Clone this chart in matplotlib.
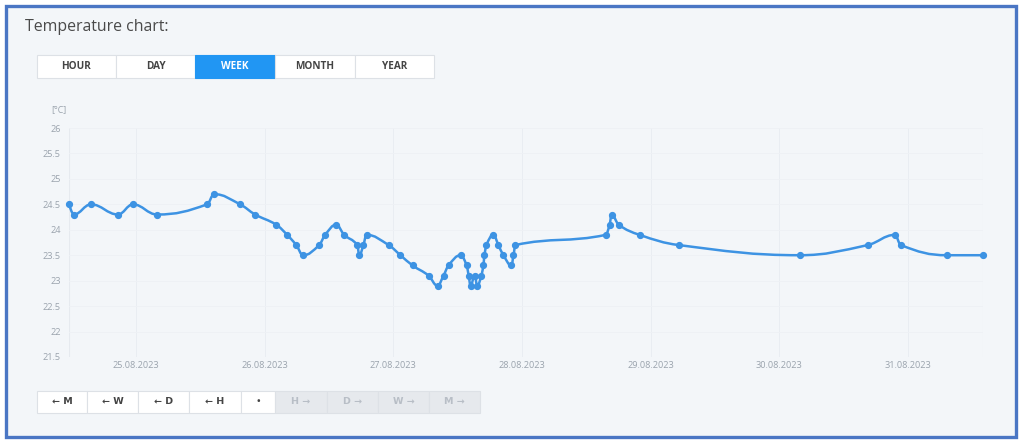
import matplotlib
matplotlib.use("Agg")
import matplotlib.pyplot as plt
import matplotlib.dates as mdates
from matplotlib.path import Path
from matplotlib.patches import PathPatch, Rectangle
import pandas as pd
import numpy as np

# ---------------- data ----------------
times = [
    "2023-08-24 11:30", "2023-08-24 12:25", "2023-08-24 15:36", "2023-08-24 20:38",
    "2023-08-24 23:26", "2023-08-25 03:55", "2023-08-25 13:16", "2023-08-25 14:34",
    "2023-08-25 19:25", "2023-08-25 22:13", "2023-08-26 02:09", "2023-08-26 04:12",
    "2023-08-26 05:53", "2023-08-26 07:11", "2023-08-26 10:10", "2023-08-26 11:17",
    "2023-08-26 13:20", "2023-08-26 14:50", "2023-08-26 17:16", "2023-08-26 17:40",
    "2023-08-26 18:25", "2023-08-26 19:00", "2023-08-26 23:07", "2023-08-27 01:20",
    "2023-08-27 03:35", "2023-08-27 06:34", "2023-08-27 08:15", "2023-08-27 09:22",
    "2023-08-27 10:18", "2023-08-27 12:33", "2023-08-27 13:40", "2023-08-27 14:03",
    "2023-08-27 14:25", "2023-08-27 15:10", "2023-08-27 15:40", "2023-08-27 16:25",
    "2023-08-27 16:48", "2023-08-27 17:00", "2023-08-27 17:22", "2023-08-27 18:40",
    "2023-08-27 19:36", "2023-08-27 20:32", "2023-08-27 22:02", "2023-08-27 22:25",
    "2023-08-27 22:47", "2023-08-28 15:36", "2023-08-28 16:21", "2023-08-28 16:43",
    "2023-08-28 18:02", "2023-08-28 21:57", "2023-08-29 05:14", "2023-08-30 03:48",
    "2023-08-30 16:30", "2023-08-30 21:33", "2023-08-30 22:40", "2023-08-31 07:16",
    "2023-08-31 14:00",
]
temps = [
    24.5, 24.3, 24.5, 24.3,
    24.5, 24.3, 24.5, 24.7,
    24.5, 24.3, 24.1, 23.9,
    23.7, 23.5, 23.7, 23.9,
    24.1, 23.9, 23.7, 23.5,
    23.7, 23.9, 23.7, 23.5,
    23.3, 23.1, 22.9, 23.1,
    23.3, 23.5, 23.3, 23.1,
    22.9, 23.1, 22.9, 23.1,
    23.3, 23.5, 23.7, 23.9,
    23.7, 23.5, 23.3, 23.5,
    23.7, 23.9, 24.1, 24.3,
    24.1, 23.9, 23.7, 23.5,
    23.7, 23.9, 23.7, 23.5,
    23.5,
]
y_ticks = [21.5, 22, 22.5, 23, 23.5, 24, 24.5, 25, 25.5, 26]
x_tick_dates = ["2023-08-25", "2023-08-26", "2023-08-27", "2023-08-28",
                "2023-08-29", "2023-08-30", "2023-08-31"]
range_buttons = ["HOUR", "DAY", "WEEK", "MONTH", "YEAR"]
nav_buttons = ["← M", "← W", "← D", "← H", "•", "H →", "D →", "W →", "M →"]

# ---------------- style ----------------
W, H = 1024, 443
BG = "#f3f6f9"
LINE = "#3d93e3"
FONT = ["Open Sans", "DejaVu Sans"]
plt.rcParams["font.family"] = FONT

fig = plt.figure(figsize=(W / 100, H / 100), dpi=100)
fig.patch.set_facecolor("white")

def fx(x):
    return x / W

def fy(y):
    return 1 - y / H

# background panel + border
fig.patches.append(Rectangle((fx(6), fy(437)), fx(1016) - fx(6), fy(6) - fy(437),
                             transform=fig.transFigure, facecolor=BG,
                             edgecolor="#4a76c4", linewidth=2.4, zorder=-5))

fig.text(fx(25), fy(27), "Temperature chart:", fontsize=11.4, color="#4a4a4a",
         va="center", ha="left")

# range buttons
bx = [37, 116, 195, 275, 355, 434]
for i, lab in enumerate(range_buttons):
    active = lab == "WEEK"
    fig.patches.append(Rectangle((fx(bx[i]), fy(78)), fx(bx[i + 1]) - fx(bx[i]), fy(55) - fy(78),
                                 transform=fig.transFigure,
                                 facecolor="#2196f3" if active else "white",
                                 edgecolor="#2196f3" if active else "#dde1e6",
                                 linewidth=0.8, zorder=1))
    fig.text(fx((bx[i] + bx[i + 1]) / 2), fy(66.5), lab, fontsize=7.2, fontweight="bold",
             color="white" if active else "#444", ha="center", va="center", zorder=2)

# navigation buttons
nx = [37, 87, 138, 189, 241, 275, 327, 378, 429, 480]
for i, lab in enumerate(nav_buttons):
    disabled = i >= 5
    fig.patches.append(Rectangle((fx(nx[i]), fy(413)), fx(nx[i + 1]) - fx(nx[i]), fy(391) - fy(413),
                                 transform=fig.transFigure,
                                 facecolor="#e6e9ed" if disabled else "white",
                                 edgecolor="#dde1e6", linewidth=0.8, zorder=1))
    fig.text(fx((nx[i] + nx[i + 1]) / 2), fy(402), lab, fontsize=6.8, fontweight="bold",
             color="#b8bec6" if disabled else "#444", ha="center", va="center", zorder=2,
             family=["DejaVu Sans"] if ("←" in lab or "→" in lab) else FONT)

# ---------------- chart ----------------
ax = fig.add_axes([fx(69), fy(357), fx(983) - fx(69), fy(128) - fy(357)])
ax.set_zorder(5)
ax.patch.set_alpha(0)

t = pd.to_datetime(times)
xs = mdates.date2num(t.to_pydatetime())
ys = np.array(temps, dtype=float)

ax.set_xlim(xs.min(), xs.max())
ax.set_ylim(21.5, 26)

# Highcharts-like spline
def spline_path(px, py, smoothing=1.5):
    n = len(px)
    denom = smoothing + 1
    rcx = [None] * n
    rcy = [None] * n
    verts = [(px[0], py[0])]
    codes = [Path.MOVETO]
    for i in range(1, n):
        x, y = px[i], py[i]
        lcx, lcy = x, y
        if i < n - 1:
            lx, ly = px[i - 1], py[i - 1]
            nx_, ny_ = px[i + 1], py[i + 1]
            lcx = (smoothing * x + lx) / denom
            lcy = (smoothing * y + ly) / denom
            rx = (smoothing * x + nx_) / denom
            ry = (smoothing * y + ny_) / denom
            corr = 0.0
            if rx != lcx:
                corr = (ry - lcy) * (rx - x) / (rx - lcx) + y - ry
            lcy += corr
            ry += corr
            if lcy > ly and lcy > y:
                lcy = max(ly, y); ry = 2 * y - lcy
            elif lcy < ly and lcy < y:
                lcy = min(ly, y); ry = 2 * y - lcy
            if ry > ny_ and ry > y:
                ry = max(ny_, y); lcy = 2 * y - ry
            elif ry < ny_ and ry < y:
                ry = min(ny_, y); lcy = 2 * y - ry
            rcx[i], rcy[i] = rx, ry
        c1x = rcx[i - 1] if rcx[i - 1] is not None else px[i - 1]
        c1y = rcy[i - 1] if rcy[i - 1] is not None else py[i - 1]
        verts += [(c1x, c1y), (lcx, lcy), (x, y)]
        codes += [Path.CURVE4] * 3
    return Path(verts, codes)

ax.add_patch(PathPatch(spline_path(list(xs), list(ys)), facecolor="none",
                       edgecolor=LINE, linewidth=1.8, zorder=3, clip_on=False))
ax.plot(xs, ys, linestyle="none", marker="o", markersize=4.2, color=LINE,
        zorder=4, clip_on=False)

ax.set_yticks(y_ticks)
ax.set_yticklabels([f"{v:g}" for v in y_ticks])
xt = mdates.date2num(pd.to_datetime(x_tick_dates).to_pydatetime())
ax.set_xticks(xt)
ax.set_xticklabels([d.strftime("%d.%m.%Y") for d in pd.to_datetime(x_tick_dates)])
ax.tick_params(axis="both", length=0, labelsize=6.6, labelcolor="#9aa3ad")
ax.tick_params(axis="y", pad=6)
ax.tick_params(axis="x", pad=3)
ax.grid(True, axis="x", color="#e9edf2", linewidth=0.7)
ax.grid(True, axis="y", color="#eef1f5", linewidth=0.6)
ax.set_axisbelow(True)
for s in ax.spines.values():
    s.set_visible(False)
ax.axvline(xs.min(), color="#e6eaef", linewidth=0.8, zorder=0)
ax.axvline(xs.max(), color="#e6eaef", linewidth=0.8, zorder=0)

fig.text(fx(67), fy(110), "[°C]", fontsize=6.4, color="#9aa3ad", ha="right", va="center")

fig.savefig("out.png", dpi=100, facecolor=fig.get_facecolor())
